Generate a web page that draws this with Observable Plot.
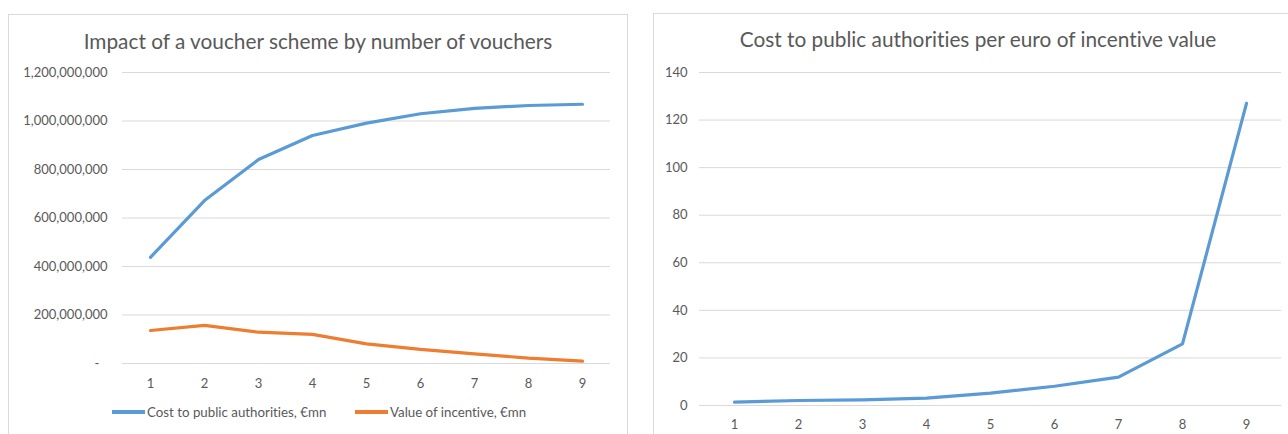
<!DOCTYPE html>
<html>
<head>
<meta charset="utf-8">
<script src="https://cdn.jsdelivr.net/npm/d3@7"></script>
<script src="https://cdn.jsdelivr.net/npm/@observablehq/plot@0.6"></script>
<style>
  html, body { margin: 0; padding: 0; background: #fff; }
  body { width: 1288px; height: 434px; position: relative; overflow: hidden; font-family: Lato, "Open Sans", sans-serif; color: #595959; font-variant-ligatures: none; }
  svg, svg text { font-variant-ligatures: none; }
  .panel { position: absolute; border: 1px solid #d9d9d9; box-sizing: border-box; pointer-events: none; z-index: 2; }
  .title { position: absolute; text-align: center; font-size: 20.8px; color: #595959; white-space: nowrap; z-index: 3; }
  .chart { position: absolute; top: 0; z-index: 1; }
  .legend { position: absolute; font-size: 13.3px; color: #595959; white-space: nowrap; z-index: 3; display: flex; align-items: center; }
  .swatch { display: inline-block; width: 33px; height: 3.5px; margin-right: 2px; }
</style>
</head>
<body>
<div class="panel" style="left:8px; top:14px; width:620px; height:440px;"></div>
<div class="panel" style="left:653px; top:13px; width:660px; height:440px;"></div>
<div class="title" style="left:8px; width:620px; top:28px;">Impact of a voucher scheme by number of vouchers</div>
<div class="title" style="left:653px; width:650px; top:26px;">Cost to public authorities per euro of incentive value</div>
<div id="left" class="chart" style="left:0px;"></div>
<div id="right" class="chart" style="left:640px;"></div>
<div class="legend" style="left:112px; top:404px;"><span class="swatch" style="background:#5b9bd5"></span>Cost to public authorities, €mn</div>
<div class="legend" style="left:355px; top:404px;"><span class="swatch" style="background:#ed7d31"></span>Value of incentive, €mn</div>
<script>
// Number of vouchers on the horizontal axis
const voucherCounts = [1, 2, 3, 4, 5, 6, 7, 8, 9];

// Cost to public authorities and value of incentive (euro)
const costToAuthorities = [438e6, 672e6, 841e6, 940e6, 991e6, 1030e6, 1052e6, 1064e6, 1069e6];
const incentiveValue = [136e6, 157e6, 129e6, 120e6, 81e6, 58e6, 40e6, 22e6, 9.5e6];

// Cost to public authorities per euro of incentive value
const costPerEuro = [1.4, 2.1, 2.4, 3.1, 5.2, 8.1, 11.9, 25.9, 127];

// Tick values
const leftTicks = [0, 200e6, 400e6, 600e6, 800e6, 1000e6, 1200e6];
const rightTicks = [0, 20, 40, 60, 80, 100, 120, 140];

const textColor = "#595959";
const gridColor = "#d9d9d9";
const blue = "#5b9bd5";
const orange = "#ed7d31";

const costRows = voucherCounts.map((n, i) => ({n, value: costToAuthorities[i]}));
const incentiveRows = voucherCounts.map((n, i) => ({n, value: incentiveValue[i]}));
const perEuroRows = voucherCounts.map((n, i) => ({n, value: costPerEuro[i]}));

const fmt = d3.format(",");
// Accounting-style zero shown as a dash
const accounting = d => d === 0 ? "-\u2002\u2009" : fmt(d);

const common = {
  style: {background: "transparent", fontFamily: "Lato, 'Open Sans', sans-serif", fontSize: "13px", color: textColor, overflow: "visible"}
};

const lineStyle = {strokeWidth: 3.2, strokeLinecap: "round", strokeLinejoin: "round"};

const leftChart = Plot.plot({
  ...common,
  width: 640,
  height: 434,
  marginLeft: 122,
  marginRight: 30,
  marginTop: 72,
  marginBottom: 71,
  x: {type: "point", domain: voucherCounts, padding: 0.5},
  y: {domain: [0, 1.2e9]},
  marks: [
    Plot.gridY(leftTicks, {stroke: gridColor, strokeOpacity: 1, strokeWidth: 1}),
    Plot.axisY(leftTicks, {tickSize: 0, tickPadding: 15, tickFormat: accounting, label: null, fill: textColor}),
    Plot.axisX(voucherCounts, {tickSize: 0, tickPadding: 15, label: null, fill: textColor}),
    Plot.lineY(costRows, {x: "n", y: "value", stroke: blue, ...lineStyle}),
    Plot.lineY(incentiveRows, {x: "n", y: "value", stroke: orange, ...lineStyle})
  ]
});
document.getElementById("left").append(leftChart);

const rightChart = Plot.plot({
  ...common,
  width: 648,
  height: 434,
  marginLeft: 59,
  marginRight: 7,
  marginTop: 72,
  marginBottom: 29,
  x: {type: "point", domain: voucherCounts, padding: 0.5},
  y: {domain: [0, 140]},
  marks: [
    Plot.gridY(rightTicks, {stroke: gridColor, strokeOpacity: 1, strokeWidth: 1}),
    Plot.axisY(rightTicks, {tickSize: 0, tickPadding: 12, label: null, fill: textColor}),
    Plot.axisX(voucherCounts, {tickSize: 0, tickPadding: 14, label: null, fill: textColor}),
    Plot.lineY(perEuroRows, {x: "n", y: "value", stroke: blue, ...lineStyle})
  ]
});
document.getElementById("right").append(rightChart);
</script>
</body>
</html>
